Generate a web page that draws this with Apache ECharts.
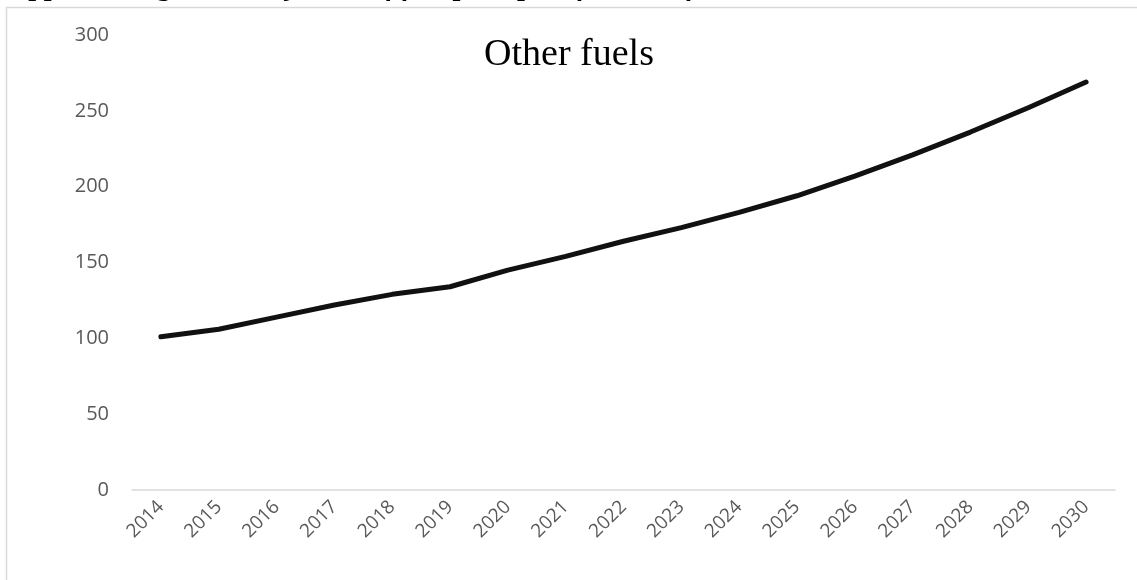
<!DOCTYPE html>
<html>
<head>
<meta charset="utf-8">
<script src="https://cdn.jsdelivr.net/npm/echarts@6/dist/echarts.min.js"></script>
<style>
  html, body { margin: 0; padding: 0; background: #ffffff; }
  #chart { width: 1137px; height: 580px; }
</style>
</head>
<body>
<div id="chart"></div>
<script>
// Projected index for other fuels, 2014–2030
const years = ['2014','2015','2016','2017','2018','2019','2020','2021','2022',
               '2023','2024','2025','2026','2027','2028','2029','2030'];
const otherFuels = [101,106,114,122,129,134,145,154,164,173,183,194,207,221,236,252,269];
const chartTitle = 'Other fuels';
const captionLead = 'Appendix Figure 7.';
const captionRest = ' Projection of fuel price path for other fuels';

const chart = echarts.init(document.getElementById('chart'), null, { renderer: 'canvas' });

const axisFont = '"Open Sans", "Liberation Sans", sans-serif';

chart.setOption({
  backgroundColor: '#ffffff',
  animation: false,
  grid: { left: 132, right: 22, top: 35, bottom: 90, containLabel: false },
  xAxis: {
    type: 'category',
    data: years,
    boundaryGap: true,
    axisLine: { show: true, lineStyle: { color: '#d9d9d9', width: 1.5 } },
    axisTick: { show: false },
    splitLine: { show: false },
    axisLabel: {
      rotate: 45,
      interval: 0,
      margin: 14,
      color: '#595959',
      fontSize: 19,
      fontFamily: axisFont
    }
  },
  yAxis: {
    type: 'value',
    min: 0,
    max: 300,
    interval: 50,
    axisLine: { show: false },
    axisTick: { show: false },
    splitLine: { show: false },
    axisLabel: {
      margin: 23,
      color: '#595959',
      fontSize: 20,
      fontFamily: axisFont
    }
  },
  series: [{
    type: 'line',
    data: otherFuels,
    showSymbol: false,
    symbol: 'none',
    lineStyle: { color: '#111111', width: 5, cap: 'round', join: 'round' }
  }],
  graphic: [
    {
      type: 'rect',
      shape: { x: 6.5, y: 7.5, width: 1300, height: 800 },
      style: { fill: 'none', stroke: '#d9d9d9', lineWidth: 1.5 },
      silent: true
    },
    {
      type: 'text',
      style: {
        text: chartTitle,
        font: '38px "Liberation Serif", "Times New Roman", serif',
        fill: '#000000',
        x: 569,
        y: 55,
        align: 'center',
        verticalAlign: 'middle'
      },
      silent: true
    },
    {
      type: 'text',
      x: 8,
      y: -12,
      style: {
        text: '{a|' + captionLead + '}{b|' + captionRest + '}',
        verticalAlign: 'middle',
        rich: {
          a: { font: 'bold 28px "Liberation Serif", serif', fill: '#000000' },
          b: { font: 'bold italic 28px "Liberation Serif", serif', fill: '#000000' }
        }
      },
      silent: true
    }
  ]
});
</script>
</body>
</html>
